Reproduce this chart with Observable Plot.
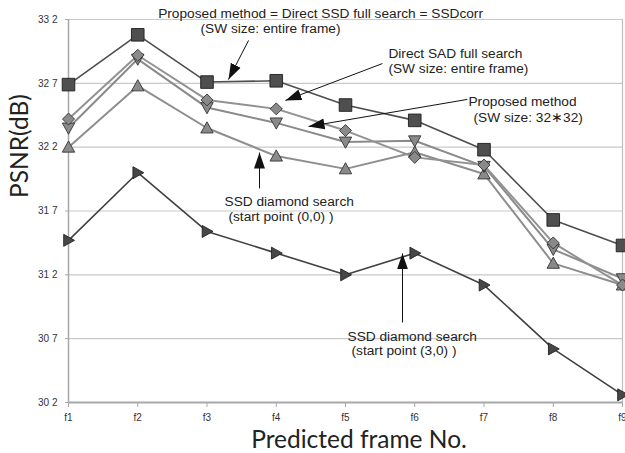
<!DOCTYPE html>
<html>
<head>
<meta charset="utf-8">
<script src="https://cdn.jsdelivr.net/npm/d3@7"></script>
<script src="https://cdn.jsdelivr.net/npm/@observablehq/plot@0.6"></script>
<style>
  html, body { margin: 0; padding: 0; background: #fff; }
  #chart svg { display: block; }
</style>
</head>
<body>
<div id="chart"></div>
<script>
// ---- data ----
const frames = ["f1", "f2", "f3", "f4", "f5", "f6", "f7", "f8", "f9"];
const ssdFull    = [32.69, 33.08, 32.71, 32.72, 32.53, 32.41, 32.18, 31.63, 31.43];
const sadFull    = [32.42, 32.92, 32.57, 32.50, 32.33, 32.12, 32.06, 31.45, 31.12];
const proposed32 = [32.35, 32.89, 32.51, 32.39, 32.24, 32.25, 32.05, 31.40, 31.17];
const diamond00  = [32.20, 32.68, 32.35, 32.13, 32.03, 32.16, 31.99, 31.29, 31.12];
const diamond30  = [31.47, 32.00, 31.54, 31.37, 31.20, 31.37, 31.12, 30.62, 30.26];
const yTicks = [30.2, 30.7, 31.2, 31.7, 32.2, 32.7, 33.2];
const yTickLabels = ["30 2", "30 7", "31 2", "31 7", "32 2", "32 7", "33 2"];
const annotationTexts = [
  "Proposed method = Direct SSD full search = SSDcorr",
  "(SW size: entire frame)",
  "Direct SAD full search",
  "(SW size: entire frame)",
  "Proposed method",
  "(SW size: 32\u221732)",
  "SSD diamond search",
  "(start point (0,0) )",
  "SSD diamond search",
  "(start point (3,0) )"
];

// ---- layout (annotation placement in data units) ----
const textPos = [
  {x: 4.64, y: 33.247, anchor: "middle"},
  {x: 3.917, y: 33.130, anchor: "middle"},
  {x: 5.62, y: 32.934, anchor: "start"},
  {x: 5.62, y: 32.816, anchor: "start"},
  {x: 6.776, y: 32.558, anchor: "start"},
  {x: 6.848, y: 32.433, anchor: "start"},
  {x: 3.253, y: 31.775, anchor: "start"},
  {x: 3.31, y: 31.657, anchor: "start"},
  {x: 5.029, y: 30.718, anchor: "start"},
  {x: 5.087, y: 30.608, anchor: "start"}
];
const arrows = [
  {x1: 3.60, y1: 33.036, x2: 3.31, y2: 32.73},
  {x1: 5.534, y1: 32.855, x2: 4.133, y2: 32.566},
  {x1: 6.76, y1: 32.574, x2: 4.466, y2: 32.362},
  {x1: 3.758, y1: 31.877, x2: 3.758, y2: 32.158},
  {x1: 5.823, y1: 30.827, x2: 5.823, y2: 31.368}
];

// ---- custom symbols ----
const sym = {
  square: {draw(c, s) { const r = Math.sqrt(s / Math.PI); c.rect(-r, -r, 2 * r, 2 * r); }},
  diamond: {draw(c, s) { const r = Math.sqrt(s / Math.PI); c.moveTo(0, -r); c.lineTo(r, 0); c.lineTo(0, r); c.lineTo(-r, 0); c.closePath(); }},
  up: {draw(c, s) { const r = Math.sqrt(s / Math.PI); c.moveTo(0, -r); c.lineTo(r, r * 0.8); c.lineTo(-r, r * 0.8); c.closePath(); }},
  down: {draw(c, s) { const r = Math.sqrt(s / Math.PI); c.moveTo(0, r); c.lineTo(r, -r * 0.8); c.lineTo(-r, -r * 0.8); c.closePath(); }},
  right: {draw(c, s) { const r = Math.sqrt(s / Math.PI); c.moveTo(r, 0); c.lineTo(-r * 0.8, -r); c.lineTo(-r * 0.8, r); c.closePath(); }}
};

const series = [
  {name: "diamond00", values: diamond00, symbol: sym.up, r: 6.2, line: "#8e8e8e", lw: 2, fill: "#8a8a8a", stroke: "#333"},
  {name: "proposed32", values: proposed32, symbol: sym.down, r: 6.2, line: "#8a8a8a", lw: 2, fill: "#8a8a8a", stroke: "#333"},
  {name: "sadFull", values: sadFull, symbol: sym.diamond, r: 6, line: "#929292", lw: 2, fill: "#8a8a8a", stroke: "#333"},
  {name: "diamond30", values: diamond30, symbol: sym.right, r: 6, line: "#404040", lw: 1.6, fill: "#474747", stroke: "#222"},
  {name: "ssdFull", values: ssdFull, symbol: sym.square, r: 6.3, line: "#4e4e4e", lw: 1.6, fill: "#4f4f4f", stroke: "#1e1e1e"}
];

const rows = s => s.values.map((v, i) => ({i: i + 1, v}));

const marks = [
  Plot.ruleY(yTicks, {stroke: "#c9c9c9", strokeWidth: 1.2}),
  Plot.ruleX([9], {stroke: "#bdbdbd", strokeWidth: 1.2}),
  Plot.ruleX([1], {stroke: "#a8a8a8", strokeWidth: 1.5}),
  Plot.ruleY([30.2], {stroke: "#a8a8a8", strokeWidth: 2.2}),
  Plot.axisY({ticks: yTicks, tickFormat: (d) => yTickLabels[yTicks.indexOf(d)], tickSize: 3, tickPadding: 8, stroke: "#a8a8a8", fill: "#333", fontSize: 10, label: null, fontFamily: "Liberation Sans Narrow, Liberation Sans, sans-serif"}),
  Plot.axisX({ticks: frames.map((f, i) => i + 1), tickFormat: d => frames[d - 1], tickSize: 5, tickPadding: 6, stroke: "#a8a8a8", fill: "#333", fontSize: 10, label: null, fontFamily: "Liberation Sans Narrow, Liberation Sans, sans-serif"})
];
for (const s of series) {
  marks.push(Plot.line(rows(s), {x: "i", y: "v", stroke: s.line, strokeWidth: s.lw}));
}
for (const s of series) {
  marks.push(Plot.dot(rows(s), {x: "i", y: "v", symbol: s.symbol, r: s.r, fill: s.fill, stroke: s.stroke, strokeWidth: 0.9}));
}
marks.push(Plot.link(arrows, {x1: "x1", y1: "y1", x2: "x2", y2: "y2", stroke: "#111", strokeWidth: 1, markerEnd: "arrow"}));
const ann = annotationTexts.map((t, k) => ({t, ...textPos[k]}));
for (const anchor of ["start", "middle"]) {
  marks.push(Plot.text(ann.filter(a => a.anchor === anchor), {x: "x", y: "y", text: "t", textAnchor: anchor, fontSize: 13.7, fill: "#222", fontFamily: "Liberation Sans, sans-serif"}));
}
marks.push(Plot.text(["PSNR(dB)"], {frameAnchor: "left", dx: -48, dy: -13, rotate: -90, fontSize: 24.5, fill: "#222", fontFamily: "Lato, sans-serif"}));
marks.push(Plot.text(["Predicted frame No."], {frameAnchor: "bottom", dx: 13.5, dy: 45, fontSize: 24.5, fill: "#222", fontFamily: "Lato, sans-serif"}));

const chart = Plot.plot({
  width: 625,
  height: 453,
  marginTop: 19,
  marginBottom: 51,
  marginLeft: 68,
  marginRight: 3,
  style: {background: "#fff", fontFamily: "Liberation Sans, sans-serif"},
  x: {domain: [1, 9], axis: null},
  y: {domain: [30.2, 33.2], axis: null},
  marks
});

// filled arrowheads
chart.querySelectorAll("marker").forEach(m => {
  m.setAttribute("viewBox", "-16 -6 16 12");
  m.setAttribute("markerWidth", "16");
  m.setAttribute("markerHeight", "12");
  m.setAttribute("markerUnits", "userSpaceOnUse");
  m.setAttribute("refX", "0");
  m.setAttribute("refY", "0");
  m.setAttribute("fill", "#111");
  m.setAttribute("stroke", "none");
  m.querySelectorAll("path").forEach(p => {
    p.setAttribute("d", "M-16,-5.5L0,0L-16,5.5Z");
    p.setAttribute("fill", "#111");
    p.setAttribute("stroke", "none");
  });
});

document.getElementById("chart").appendChild(chart);
</script>
</body>
</html>
